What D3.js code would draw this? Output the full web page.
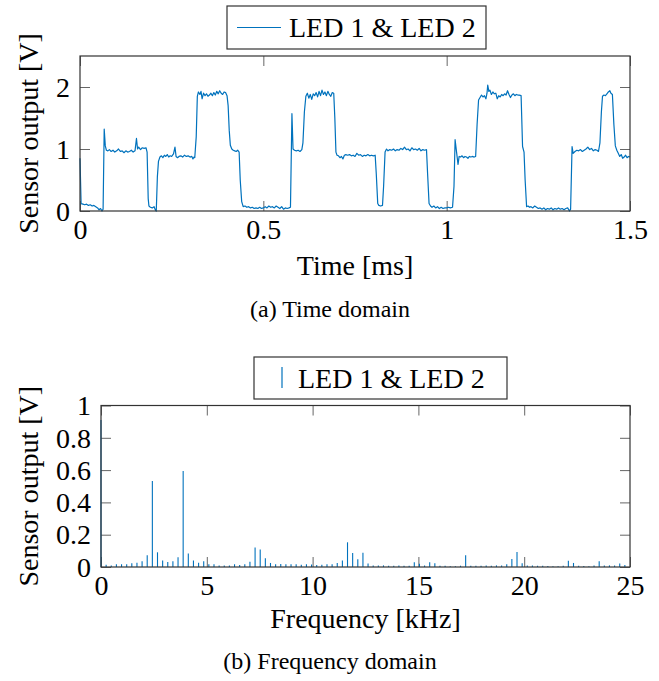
<!DOCTYPE html>
<html><head><meta charset="utf-8">
<script src="https://cdn.jsdelivr.net/npm/d3@7"></script>
<style>
body{margin:0;background:#fff}
text{font-family:"Liberation Serif","Times New Roman",serif;fill:#000}
</style>
</head><body><svg id="c" width="659" height="681"></svg>
<script>
// ---- Data (a) time domain ----
const timeMs = [0.000,0.003,0.008,0.013,0.018,0.023,0.028,0.033,0.038,0.043,0.048,0.052,0.056,0.060,0.063,
0.066,0.069,0.072,0.076,0.080,0.085,0.090,0.095,0.100,0.105,0.110,0.115,0.120,0.125,0.130,0.135,0.140,0.145,0.150,0.154,0.157,0.160,0.165,0.170,0.175,0.180,0.183,
0.186,0.188,0.192,0.197,0.202,0.206,0.208,0.211,0.214,0.218,0.222,0.226,0.230,0.234,0.238,0.242,0.246,0.250,0.255,0.259,0.262,0.266,0.270,0.275,0.280,0.285,0.290,0.295,0.300,0.305,0.308,0.311,0.313,
0.317,0.320,0.323,0.327,0.330,0.333,0.337,0.341,0.345,0.349,0.353,0.357,0.361,0.365,0.369,0.373,0.377,0.381,0.385,0.389,0.393,0.397,0.401,0.404,0.407,0.410,0.414,0.418,0.422,0.426,0.430,0.434,0.437,0.441,0.445,0.450,0.455,0.460,0.465,0.470,0.475,0.480,0.485,0.490,0.495,
0.500,0.505,0.510,0.515,0.520,0.525,0.530,0.535,0.540,0.545,0.550,0.555,0.560,0.565,0.570,0.574,0.578,0.581,0.585,0.590,0.595,0.600,0.605,0.608,0.612,0.616,0.620,0.624,0.628,0.632,0.636,0.640,0.644,0.648,0.652,0.656,0.660,0.664,0.668,0.672,0.676,0.680,0.684,0.688,0.692,0.695,
0.698,0.701,0.705,0.709,0.713,0.717,0.721,0.725,0.730,0.735,0.740,0.745,0.750,0.755,0.760,0.765,0.770,0.775,0.780,0.785,0.790,0.795,0.800,0.805,0.808,0.812,0.815,0.820,0.825,0.828,0.832,0.836,0.840,0.845,0.850,0.855,0.860,0.865,0.870,0.875,0.880,0.885,0.890,0.895,0.900,0.905,0.910,0.915,0.920,0.925,0.930,0.935,0.940,0.945,
0.948,0.952,0.956,0.960,0.965,0.970,0.975,0.980,0.985,0.990,0.995,1.000,1.005,1.010,1.016,1.020,1.023,1.027,1.031,1.034,1.038,1.042,1.046,1.050,1.054,1.058,1.062,1.066,1.070,1.075,1.079,1.083,1.087,1.091,1.095,1.099,1.103,1.107,1.110,1.112,1.115,1.118,1.122,1.126,1.130,1.134,1.138,1.142,1.146,1.150,1.154,1.158,1.162,1.166,1.170,1.174,1.178,1.182,1.186,1.190,1.194,1.198,1.203,
1.207,1.211,1.214,1.218,1.222,1.226,1.230,1.235,1.240,1.245,1.250,1.255,1.260,1.265,1.270,1.275,1.280,1.285,1.290,1.295,1.300,1.305,1.310,1.315,1.320,1.325,1.330,1.335,1.338,1.342,1.345,1.350,1.355,1.360,1.365,1.370,1.375,1.380,1.385,1.390,1.395,1.400,1.405,1.410,1.414,1.418,1.422,1.425,1.429,1.433,1.437,1.441,1.445,1.448,1.452,1.456,1.460,1.464,1.468,1.472,1.476,1.480,1.484,1.488,1.492,1.496,1.500];
const voltage = [0.85,0.12,0.11,0.10,0.11,0.09,0.10,0.08,0.09,0.07,0.05,0.02,0.04,0.00,0.03,
1.32,1.05,0.98,0.97,0.99,0.96,0.98,0.95,0.97,1.00,0.96,0.97,0.94,0.97,0.95,0.96,0.98,0.95,0.97,1.17,1.00,1.03,0.99,1.02,1.01,1.02,0.95,
0.20,0.08,0.06,0.05,0.07,0.01,0.00,0.55,0.80,0.87,0.89,0.86,0.90,0.88,0.91,0.87,0.89,0.88,0.92,1.03,0.88,0.86,0.88,0.89,0.87,0.90,0.88,0.89,0.87,0.88,0.84,0.87,0.86,
1.20,1.85,1.92,1.88,1.93,1.81,1.90,1.86,1.89,1.85,1.87,1.90,1.86,1.91,1.87,1.93,1.89,1.94,1.90,1.88,1.92,1.91,1.86,1.70,1.30,1.06,1.00,0.98,0.97,0.96,0.98,0.95,0.50,0.15,0.07,0.08,0.06,0.07,0.05,0.06,0.04,0.05,0.04,0.06,0.04,
0.05,0.07,0.05,0.08,0.06,0.07,0.05,0.08,0.06,0.04,0.07,0.03,0.05,0.04,0.05,0.06,1.57,1.00,0.98,0.97,0.98,0.96,0.99,1.10,1.60,1.85,1.90,1.82,1.88,1.80,1.89,1.86,1.91,1.84,1.93,1.86,1.95,1.88,1.92,1.86,1.93,1.88,1.85,1.91,1.90,1.50,
0.95,0.90,0.89,0.86,0.88,0.84,0.90,0.91,0.90,0.91,0.89,0.90,0.88,0.93,0.90,0.91,0.88,0.90,0.89,0.91,0.89,0.90,0.89,0.90,0.60,0.12,0.09,0.08,0.09,0.40,0.95,1.00,0.97,0.99,0.98,1.00,0.97,0.99,0.98,1.01,0.99,1.03,0.99,1.00,0.97,1.02,0.99,1.00,0.98,1.01,0.97,0.99,0.98,0.99,
0.60,0.12,0.08,0.06,0.08,0.05,0.07,0.04,0.06,0.04,0.05,0.05,0.06,0.05,0.06,0.40,1.15,0.95,0.75,0.88,0.87,0.89,0.86,0.88,0.87,0.85,0.88,0.87,0.88,0.87,0.88,1.40,1.79,1.83,1.87,1.84,1.86,1.81,1.90,2.03,1.93,1.95,1.88,1.92,1.89,1.90,1.81,1.86,1.84,1.88,1.86,1.89,1.87,1.94,1.88,1.83,1.87,1.89,1.86,1.88,1.87,1.87,1.86,
1.04,0.95,0.50,0.07,0.08,0.06,0.07,0.05,0.08,0.06,0.04,0.05,0.03,0.05,0.02,0.04,0.03,0.05,0.02,0.04,0.03,0.05,0.03,0.04,0.02,0.04,0.05,0.00,0.03,1.04,0.93,0.96,0.98,0.97,0.99,0.96,0.98,1.00,1.03,0.99,1.01,0.97,0.99,0.98,0.96,1.10,1.60,1.85,1.87,1.86,1.89,1.92,1.94,1.90,1.88,1.40,1.05,0.98,0.93,0.88,0.91,0.85,0.87,0.90,0.86,0.88,0.87];

// ---- Data (b) frequency domain ----
const freqKHz = [0,0.243,0.485,0.728,0.971,1.214,1.456,1.699,1.942,2.184,2.427,2.670,2.913,3.155,3.398,3.641,3.883,4.126,4.369,4.612,4.854,
5.097,5.340,5.583,5.825,6.068,6.311,6.553,6.796,7.039,7.282,7.524,7.767,8.010,8.252,8.495,8.738,8.981,9.223,9.466,9.709,
9.951,10.194,10.437,10.680,10.922,11.165,11.408,11.650,11.893,12.136,12.379,12.621,12.864,13.107,13.350,13.592,13.835,14.078,14.320,14.563,
14.806,15.049,15.291,15.534,15.777,16.019,16.262,16.505,16.748,16.990,17.233,17.476,17.718,17.961,18.204,18.447,18.689,18.932,19.175,19.417,
19.660,19.903,20.146,20.388,20.631,20.874,21.117,21.359,21.602,21.845,22.087,22.330,22.573,22.816,23.058,23.301,23.544,23.786,24.029,24.272,24.515,24.757];
const amplitude = [0.91,0.014,0.010,0.017,0.017,0.017,0.023,0.027,0.035,0.072,0.532,0.091,0.041,0.031,0.035,0.060,0.594,0.083,0.041,0.027,0.035,
0.017,0.017,0.010,0.010,0.010,0.017,0.012,0.017,0.033,0.120,0.108,0.054,0.025,0.017,0.019,0.017,0.017,0.017,0.014,0.017,
0.015,0.012,0.014,0.017,0.017,0.025,0.041,0.153,0.087,0.048,0.089,0.021,0.010,0.010,0.010,0.008,0.008,0.010,0.008,0.008,
0.029,0.020,0.010,0.029,0.023,0.008,0.008,0.004,0.004,0.008,0.072,0.008,0.008,0.008,0.010,0.008,0.010,0.010,0.017,0.050,
0.093,0.023,0.010,0.010,0.008,0.008,0.006,0.004,0.004,0.008,0.039,0.025,0.008,0.006,0.004,0.010,0.035,0.010,0.010,0.010,0.021,0.012];

const timeTicks = [0,0.5,1,1.5];
const voltTicksA = [0,1,2];
const freqTicks = [0,5,10,15,20,25];
const voltTicksB = [0,0.2,0.4,0.6,0.8,1];
const seriesName = "LED 1 & LED 2";

const BLUE = "#0072BD";
const svg = d3.select("#c");
const FS = 28;
const SERIF = "Liberation Serif";

function panel(o) {
  const g = svg.append("g");
  const x = d3.scaleLinear().domain(o.xd).range([o.l, o.r]);
  const y = d3.scaleLinear().domain(o.yd).range([o.b, o.t]);
  const tl = 10;
  const axB = d3.axisBottom(x).tickValues(o.xt).tickSize(-tl).tickFormat(d3.format("~g"));
  const axT = d3.axisTop(x).tickValues(o.xt).tickSize(-tl).tickFormat("");
  const axL = d3.axisLeft(y).tickValues(o.yt).tickSize(-tl).tickFormat(d3.format("~g"));
  const axR = d3.axisRight(y).tickValues(o.yt).tickSize(-tl).tickFormat("");
  const gb = g.append("g").attr("transform",`translate(0,${o.b})`).call(axB);
  const gt = g.append("g").attr("transform",`translate(0,${o.t})`).call(axT);
  const gl = g.append("g").attr("transform",`translate(${o.l},0)`).call(axL);
  const gr = g.append("g").attr("transform",`translate(${o.r},0)`).call(axR);
  [gb,gt,gl,gr].forEach(a=>{
    a.attr("font-family",SERIF).attr("font-size",FS);
    a.select(".domain").remove();
    a.selectAll(".tick line").attr("stroke","#666").attr("stroke-width",1);
  });
  gb.selectAll(".tick text").attr("dy",null).attr("y",28).style("font-size",FS+"px").style("font-family",SERIF);
  gl.selectAll(".tick text").attr("x",-10).attr("dy","0.33em").style("font-size",FS+"px").style("font-family",SERIF);
  o.draw(g, x, y);
  g.append("rect").attr("x",o.l).attr("y",o.t).attr("width",o.r-o.l).attr("height",o.b-o.t)
    .attr("fill","none").attr("stroke","#333").attr("stroke-width",1.2);
  g.append("text").attr("transform",`translate(28,${(o.t+o.b)/2}) rotate(-90)`).attr("text-anchor","middle")
    .attr("dy","0.35em").style("font-size",FS+"px").text("Sensor output [V]");
  g.append("text").attr("x",(o.l+o.r)/2).attr("y",o.xTitleY).attr("text-anchor","middle").style("font-size",FS+"px").text(o.xTitle);
  g.append("text").attr("x",330).attr("y",o.capY).attr("text-anchor","middle").style("font-size","24px").text(o.caption);
  const lg = g.append("g");
  lg.append("rect").attr("x",o.lg[0]).attr("y",o.lg[1]).attr("width",o.lg[2]).attr("height",o.lg[3])
    .attr("fill","#fff").attr("stroke","#333").attr("stroke-width",1.2);
  o.legendSym(lg);
  lg.append("text").attr("x",o.lgText).attr("y",o.lg[1]+o.lg[3]/2).attr("dy","0.35em").style("font-size",FS+"px").text(seriesName);
}

// (a)
panel({
  l:80, r:630, t:56, b:211, xd:[0,1.5], yd:[0,2.5], xt:timeTicks, yt:voltTicksA,
  xTitleY:275, xTitle:"Time [ms]", capY:317, caption:"(a) Time domain",
  lg:[227,6,259,43], lgText:289,
  legendSym: lg => lg.append("line").attr("x1",237).attr("x2",281).attr("y1",27.5).attr("y2",27.5).attr("stroke",BLUE).attr("stroke-width",1.2),
  draw:(g,x,y)=>{
    const pts = timeMs.map((t,i)=>[t,voltage[i]]);
    g.append("path").datum(pts).attr("fill","none").attr("stroke",BLUE).attr("stroke-width",1.2)
      .attr("stroke-linejoin","round")
      .attr("d", d3.line().x(d=>x(d[0])).y(d=>y(d[1])));
  }
});

// (b)
panel({
  l:101, r:630, t:405.5, b:567, xd:[0,25], yd:[0,1], xt:freqTicks, yt:voltTicksB,
  xTitleY:628, xTitle:"Frequency [kHz]", capY:669, caption:"(b) Frequency domain",
  lg:[254,357,253,42], lgText:298,
  legendSym: lg => lg.append("line").attr("x1",282).attr("x2",282).attr("y1",367).attr("y2",388).attr("stroke",BLUE).attr("stroke-width",1.2),
  draw:(g,x,y)=>{
    g.selectAll("line.comb").data(freqKHz).join("line").attr("class","comb")
      .attr("x1",d=>x(d)).attr("x2",d=>x(d)).attr("y1",y(0)).attr("y2",(d,i)=>y(amplitude[i]))
      .attr("stroke",BLUE).attr("stroke-width",1.1);
  }
});
</script></body></html>
